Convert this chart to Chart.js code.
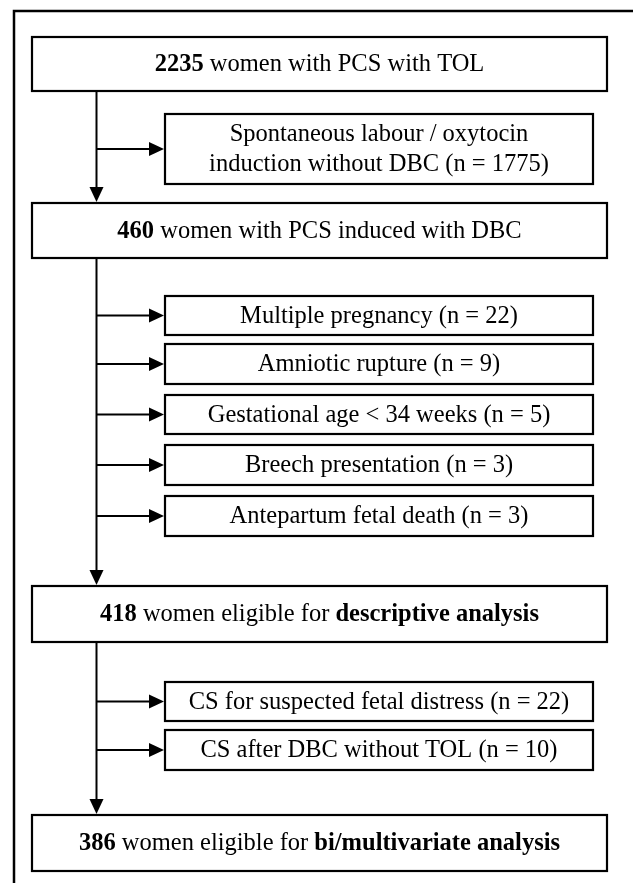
<!DOCTYPE html>
<html lang="en">
<head>
    <meta charset="UTF-8">
    <title>Flow chart</title>
    <script src="https://cdn.jsdelivr.net/npm/chart.js"></script>
    <style>
        body {
            margin: 0;
            padding: 0;
            background-color: #ffffff;
        }
        canvas {
            display: block;
        }
    </style>
</head>
<body>
    <canvas id="flowChart" width="633" height="883"></canvas>

    <script>
        // Main stages: count (bold) + text parts (bold flag per part)
        const stageCounts = [2235, 460, 418, 386];
        const stageTexts = [
            [[" women with PCS with TOL", false]],
            [[" women with PCS induced with DBC", false]],
            [[" women eligible for ", false], ["descriptive analysis", true]],
            [[" women eligible for ", false], ["bi/multivariate analysis", true]]
        ];

        // Exclusions after each stage
        const exclusionLabels = [
            ["Spontaneous labour / oxytocin", "induction without DBC"],
            ["Multiple pregnancy"],
            ["Amniotic rupture"],
            ["Gestational age < 34 weeks"],
            ["Breech presentation"],
            ["Antepartum fetal death"],
            ["CS for suspected fetal distress"],
            ["CS after DBC without TOL"]
        ];
        const exclusionCounts = [1775, 22, 9, 5, 3, 3, 22, 10];

        // Layout in axis units (page is 633 x 883)
        const stageBoxes = [[32, 607, 37, 91], [32, 607, 203, 258], [32, 607, 586, 642], [32, 607, 815, 871]];
        const exclusionBoxes = [
            [165, 593, 114, 184],
            [165, 593, 296, 335], [165, 593, 344, 384], [165, 593, 395, 434],
            [165, 593, 445, 485], [165, 593, 496, 536],
            [165, 593, 682, 721], [165, 593, 730, 770]
        ];
        const trunkX = 96.5;
        const frame = [14, 640, 11, 890];

        const FONT = "'Liberation Serif', 'Times New Roman', serif";
        const FONT_SIZE = 24.5;

        function drawRuns(ctx, runs, cx, cy) {
            let total = 0;
            runs.forEach(r => {
                ctx.font = (r[1] ? "bold " : "") + FONT_SIZE + "px " + FONT;
                total += ctx.measureText(r[0]).width;
            });
            let x = cx - total / 2;
            ctx.textBaseline = "middle";
            ctx.textAlign = "left";
            runs.forEach(r => {
                ctx.font = (r[1] ? "bold " : "") + FONT_SIZE + "px " + FONT;
                ctx.fillText(r[0], x, cy);
                x += ctx.measureText(r[0]).width;
            });
        }

        function arrowHead(ctx, x, y, dir) {
            // dir: "down" or "right", tip at (x, y)
            ctx.beginPath();
            if (dir === "down") {
                ctx.moveTo(x, y);
                ctx.lineTo(x - 7, y - 15);
                ctx.lineTo(x + 7, y - 15);
            } else {
                ctx.moveTo(x, y);
                ctx.lineTo(x - 15, y - 7);
                ctx.lineTo(x - 15, y + 7);
            }
            ctx.closePath();
            ctx.fill();
        }

        const flowPlugin = {
            id: "flowPlugin",
            afterDraw(chart) {
                const ctx = chart.ctx;
                const sx = chart.scales.x, sy = chart.scales.y;
                const px = v => sx.getPixelForValue(v);
                const py = v => sy.getPixelForValue(v);
                ctx.save();
                ctx.strokeStyle = "#000";
                ctx.fillStyle = "#000";

                // outer frame
                ctx.lineWidth = 2.5;
                ctx.strokeRect(px(frame[0]), py(frame[2]), px(frame[1]) - px(frame[0]), py(frame[3]) - py(frame[2]));

                // trunk lines with arrows between stages
                ctx.lineWidth = 2;
                for (let i = 0; i < stageBoxes.length - 1; i++) {
                    const y0 = py(stageBoxes[i][3]);
                    const y1 = py(stageBoxes[i + 1][2]);
                    ctx.beginPath();
                    ctx.moveTo(px(trunkX), y0);
                    ctx.lineTo(px(trunkX), y1 - 12);
                    ctx.stroke();
                    arrowHead(ctx, px(trunkX), y1 - 1, "down");
                }

                // branches to exclusion boxes
                exclusionBoxes.forEach(b => {
                    const ym = py((b[2] + b[3]) / 2);
                    ctx.beginPath();
                    ctx.moveTo(px(trunkX), ym);
                    ctx.lineTo(px(b[0]) - 12, ym);
                    ctx.stroke();
                    arrowHead(ctx, px(b[0]) - 1, ym, "right");
                });

                // stage boxes
                ctx.lineWidth = 2.2;
                stageBoxes.forEach((b, i) => {
                    ctx.fillStyle = "#fff";
                    ctx.fillRect(px(b[0]), py(b[2]), px(b[1]) - px(b[0]), py(b[3]) - py(b[2]));
                    ctx.strokeRect(px(b[0]), py(b[2]), px(b[1]) - px(b[0]), py(b[3]) - py(b[2]));
                    ctx.fillStyle = "#000";
                    const runs = [[String(stageCounts[i]), true]].concat(stageTexts[i]);
                    drawRuns(ctx, runs, px((b[0] + b[1]) / 2), py((b[2] + b[3]) / 2) + 1);
                });

                // exclusion boxes
                exclusionBoxes.forEach((b, i) => {
                    ctx.fillStyle = "#fff";
                    ctx.fillRect(px(b[0]), py(b[2]), px(b[1]) - px(b[0]), py(b[3]) - py(b[2]));
                    ctx.strokeRect(px(b[0]), py(b[2]), px(b[1]) - px(b[0]), py(b[3]) - py(b[2]));
                    ctx.fillStyle = "#000";
                    const lines = exclusionLabels[i].slice();
                    lines[lines.length - 1] += " (n = " + exclusionCounts[i] + ")";
                    const cx = px((b[0] + b[1]) / 2);
                    const cy = py((b[2] + b[3]) / 2) + 1;
                    const lh = 30;
                    lines.forEach((ln, k) => {
                        drawRuns(ctx, [[ln, false]], cx, cy + (k - (lines.length - 1) / 2) * lh);
                    });
                });

                ctx.restore();
            }
        };

        new Chart(document.getElementById("flowChart").getContext("2d"), {
            type: "scatter",
            data: { datasets: [{ data: [], pointRadius: 0 }] },
            options: {
                responsive: false,
                animation: false,
                layout: { padding: 0 },
                plugins: { legend: { display: false }, tooltip: { enabled: false } },
                scales: {
                    x: { type: "linear", min: 0, max: 633, display: false },
                    y: { type: "linear", min: 0, max: 883, reverse: true, display: false }
                }
            },
            plugins: [flowPlugin]
        });
    </script>
</body>
</html>
